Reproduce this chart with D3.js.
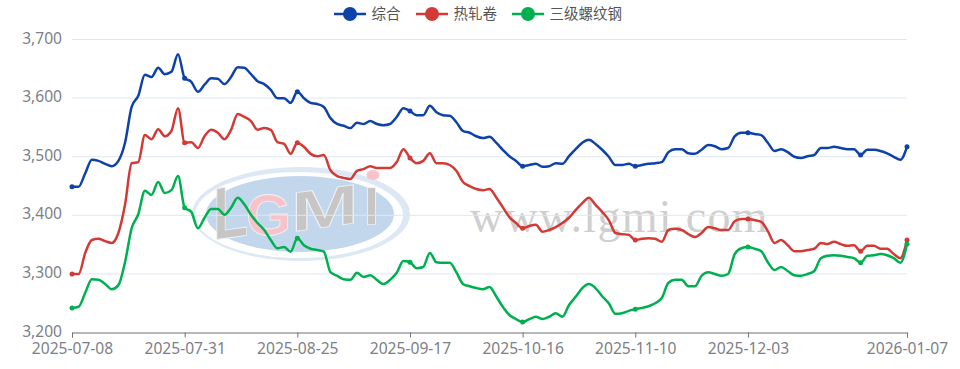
<!DOCTYPE html>
<html>
<head>
<meta charset="utf-8">
<script src="https://cdn.jsdelivr.net/npm/d3@7"></script>
<style>
    html, body { margin: 0; padding: 0; background: #fff; }
    svg { display: block; }
    .tick text { font-family: "Noto Sans", sans-serif; font-size: 15.6px; fill: #7d7f87; }
</style>
</head>
<body>
<div id="chart"></div>
<script>
// Trading days on the x axis
const dates = [
    '2025-07-08','2025-07-09','2025-07-10','2025-07-11','2025-07-14','2025-07-15','2025-07-16','2025-07-17','2025-07-18',
    '2025-07-21','2025-07-22','2025-07-23','2025-07-24','2025-07-25','2025-07-28','2025-07-29','2025-07-30','2025-07-31',
    '2025-08-01','2025-08-04','2025-08-05','2025-08-06','2025-08-07','2025-08-08','2025-08-11','2025-08-12','2025-08-13',
    '2025-08-14','2025-08-15','2025-08-18','2025-08-19','2025-08-20','2025-08-21','2025-08-22','2025-08-25','2025-08-26',
    '2025-08-27','2025-08-28','2025-08-29','2025-09-01','2025-09-02','2025-09-03','2025-09-04','2025-09-05','2025-09-08',
    '2025-09-09','2025-09-10','2025-09-11','2025-09-12','2025-09-15','2025-09-16','2025-09-17','2025-09-18','2025-09-19',
    '2025-09-22','2025-09-23','2025-09-24','2025-09-25','2025-09-26','2025-09-29','2025-09-30','2025-10-07','2025-10-08',
    '2025-10-09','2025-10-10','2025-10-13','2025-10-14','2025-10-15','2025-10-16','2025-10-17','2025-10-20','2025-10-21',
    '2025-10-22','2025-10-23','2025-10-24','2025-10-27','2025-10-28','2025-10-29','2025-10-30','2025-10-31','2025-11-03',
    '2025-11-04','2025-11-05','2025-11-06','2025-11-07','2025-11-10','2025-11-11','2025-11-12','2025-11-13','2025-11-14',
    '2025-11-17','2025-11-18','2025-11-19','2025-11-20','2025-11-21','2025-11-24','2025-11-25','2025-11-26','2025-11-27',
    '2025-11-28','2025-12-01','2025-12-02','2025-12-03','2025-12-04','2025-12-05','2025-12-08','2025-12-09','2025-12-10',
    '2025-12-11','2025-12-12','2025-12-15','2025-12-16','2025-12-17','2025-12-18','2025-12-19','2025-12-22','2025-12-23',
    '2025-12-24','2025-12-25','2025-12-26','2025-12-29','2025-12-30','2025-12-31','2026-01-02','2026-01-05','2026-01-06','2026-01-07'
];

const composite = [
    3448,3448,3471,3494,3492,3487,3483,3492,3523,3584,3603,3639,3635,3651,3640,3644,3674,3633,
    3627,3610,3622,3633,3632,3623,3635,3652,3651,3640,3628,3623,3613,3599,3599,3591,3610,
    3599,3591,3589,3584,3565,3555,3552,3548,3557,3555,3560,3555,3553,3555,3567,3582,3577,
    3570,3570,3586,3575,3570,3569,3558,3543,3540,3534,3531,3533,3523,3511,3500,3492,3483,
    3485,3487,3482,3483,3488,3487,3500,3512,3523,3528,3521,3511,3499,3485,3485,3487,3483,
    3485,3487,3488,3490,3507,3512,3512,3505,3504,3511,3519,3517,3512,3514,3534,3540,3540,
    3538,3536,3523,3509,3512,3507,3499,3497,3500,3502,3514,3514,3516,3514,3512,3512,3502,
    3511,3511,3509,3505,3499,3494,3516
];

const hotRolled = [
    3299,3299,3335,3357,3359,3355,3352,3369,3417,3488,3490,3536,3529,3546,3534,3543,3582,3523,
    3524,3514,3534,3545,3540,3529,3545,3572,3567,3560,3545,3548,3545,3524,3521,3504,3523,
    3516,3504,3500,3502,3476,3466,3463,3461,3475,3478,3483,3480,3480,3480,3490,3512,3497,
    3488,3492,3505,3488,3488,3485,3475,3456,3449,3444,3442,3444,3430,3413,3396,3386,3377,
    3381,3383,3371,3374,3379,3386,3395,3408,3420,3429,3417,3405,3391,3369,3367,3366,3357,
    3359,3360,3359,3354,3374,3376,3374,3367,3362,3369,3379,3377,3374,3374,3389,3393,3393,
    3391,3388,3372,3352,3357,3348,3338,3338,3340,3342,3352,3350,3354,3350,3347,3348,3338,
    3347,3347,3342,3342,3333,3326,3357
];

const rebar = [
    3241,3243,3267,3290,3289,3282,3273,3280,3319,3377,3401,3441,3434,3456,3437,3442,3466,3412,
    3405,3377,3395,3410,3410,3400,3412,3429,3418,3400,3386,3374,3357,3343,3345,3337,3360,
    3348,3342,3340,3337,3302,3296,3290,3289,3301,3294,3297,3289,3282,3289,3301,3321,3319,
    3309,3311,3335,3319,3318,3318,3302,3282,3278,3275,3273,3277,3261,3243,3229,3222,3217,
    3222,3226,3222,3226,3232,3226,3246,3260,3275,3282,3275,3261,3249,3231,3232,3236,3239,
    3241,3244,3249,3258,3284,3289,3289,3278,3278,3296,3302,3299,3296,3299,3333,3343,3345,
    3342,3338,3319,3306,3311,3304,3297,3296,3299,3304,3326,3330,3331,3330,3328,3326,3318,
    3330,3331,3333,3331,3326,3318,3350
];

const seriesNames = ['综合', '热轧卷', '三级螺纹钢'];
const seriesValues = [composite, hotRolled, rebar];
const seriesColors = ['#0f42a8', '#d23a36', '#00b050'];

const yTicks = [3200, 3300, 3400, 3500, 3600, 3700];
const xTickLabels = ['2025-07-08','2025-07-31','2025-08-25','2025-09-17','2025-10-16','2025-11-10','2025-12-03','2026-01-07'];
const symbolDates = xTickLabels.concat(['2025-12-26']);

const width = 960, height = 369;
const margin = { top: 39, right: 53, bottom: 37, left: 72 };

const svg = d3.select('#chart').append('svg')
    .attr('width', width)
    .attr('height', height);

const x = d3.scalePoint()
    .domain(dates)
    .range([margin.left, width - margin.right]);

const y = d3.scaleLinear()
    .domain([3200, 3700])
    .range([height - margin.bottom, margin.top]);

drawWatermark();

// Grid lines
svg.append('g')
    .selectAll('line')
    .data(yTicks.slice(1))
    .join('line')
    .attr('x1', margin.left)
    .attr('x2', width - margin.right)
    .attr('y1', d => y(d) + 0.5)
    .attr('y2', d => y(d) + 0.5)
    .attr('stroke', '#e0e6f1');

// Axes
const yAxis = svg.append('g')
    .attr('transform', `translate(${margin.left},-1)`)
    .call(d3.axisLeft(y).tickValues(yTicks).tickFormat(d3.format(',')).tickSize(0).tickPadding(10));
yAxis.select('.domain').remove();

svg.append('g')
    .attr('transform', `translate(0,${height - margin.bottom + 0.5})`)
    .call(d3.axisBottom(x).tickValues(xTickLabels).tickSizeOuter(0).tickSize(5).tickPadding(5))
    .call(g => g.selectAll('.domain, line').attr('stroke', '#6e7079'));

// Series
const line = d3.line()
    .x((d, i) => x(dates[i]))
    .y(d => y(d))
    .curve(d3.curveMonotoneX);

seriesValues.forEach((values, s) => {
    const group = svg.append('g');
    group.append('path')
        .attr('fill', 'none')
        .attr('stroke', seriesColors[s])
        .attr('stroke-width', 2.5)
        .attr('stroke-linejoin', 'round')
        .attr('d', line(values));
    group.selectAll('circle')
        .data(symbolDates)
        .join('circle')
        .attr('cx', d => x(d))
        .attr('cy', d => y(values[dates.indexOf(d)]))
        .attr('r', 2.5)
        .attr('fill', seriesColors[s]);
});

// Legend
const legendX = [334, 416, 512];
seriesNames.forEach((name, s) => {
    const g = svg.append('g').attr('transform', `translate(${legendX[s]},14)`);
    g.append('line').attr('x2', 32).attr('stroke', seriesColors[s]).attr('stroke-width', 2.5);
    g.append('circle').attr('cx', 16).attr('r', 7).attr('fill', seriesColors[s]);
    g.append('text')
        .attr('x', 37.5)
        .attr('y', 5)
        .attr('font-family', '"Noto Sans CJK SC", sans-serif')
        .attr('font-size', 14.5)
        .attr('fill', '#555')
        .text(name);
});

function drawWatermark() {
    const wm = svg.append('g');
    wm.append('ellipse').attr('cx', 301).attr('cy', 214).attr('rx', 109).attr('ry', 47).attr('fill', '#dde8f4');
    wm.append('ellipse').attr('cx', 299).attr('cy', 215).attr('rx', 104).attr('ry', 43).attr('fill', '#fff');
    wm.append('ellipse').attr('cx', 300).attr('cy', 214).attr('rx', 94).attr('ry', 38).attr('fill', '#c3d7ec');

    const logoLetters = [
        { t: 'L', x: 213, y: 240, size: 74, sx: 0.78, skew: -8, fill: '#c8c6c4' },
        { t: 'G', x: 246, y: 235, size: 58, sx: 1, skew: 0, fill: '#f8c3c8' },
        { t: 'M', x: 291, y: 232, size: 56, sx: 1.45, skew: -8, fill: '#c8c6c4' },
        { t: 'I', x: 364, y: 225, size: 54, sx: 1, skew: -3, fill: '#c8c6c4' }
    ];
    logoLetters.forEach(l => {
        wm.append('text')
            .attr('transform', `translate(${l.x},${l.y}) skewY(${l.skew}) scale(${l.sx},1)`)
            .attr('font-family', '"Liberation Sans", sans-serif')
            .attr('font-weight', 'bold')
            .attr('font-size', l.size)
            .attr('fill', l.fill)
            .attr('stroke', '#eef2f7')
            .attr('stroke-width', 0.8)
            .text(l.t);
    });
    wm.append('ellipse').attr('cx', 373).attr('cy', 175).attr('rx', 6.5).attr('ry', 5).attr('fill', '#f8c3c8');

    wm.append('text')
        .attr('x', 470)
        .attr('y', 232)
        .attr('font-family', '"Liberation Serif", serif')
        .attr('font-size', 46)
        .attr('letter-spacing', 1.3)
        .attr('fill', '#cfcfcf')
        .text('www.lgmi.com');
}
</script>
</body>
</html>
